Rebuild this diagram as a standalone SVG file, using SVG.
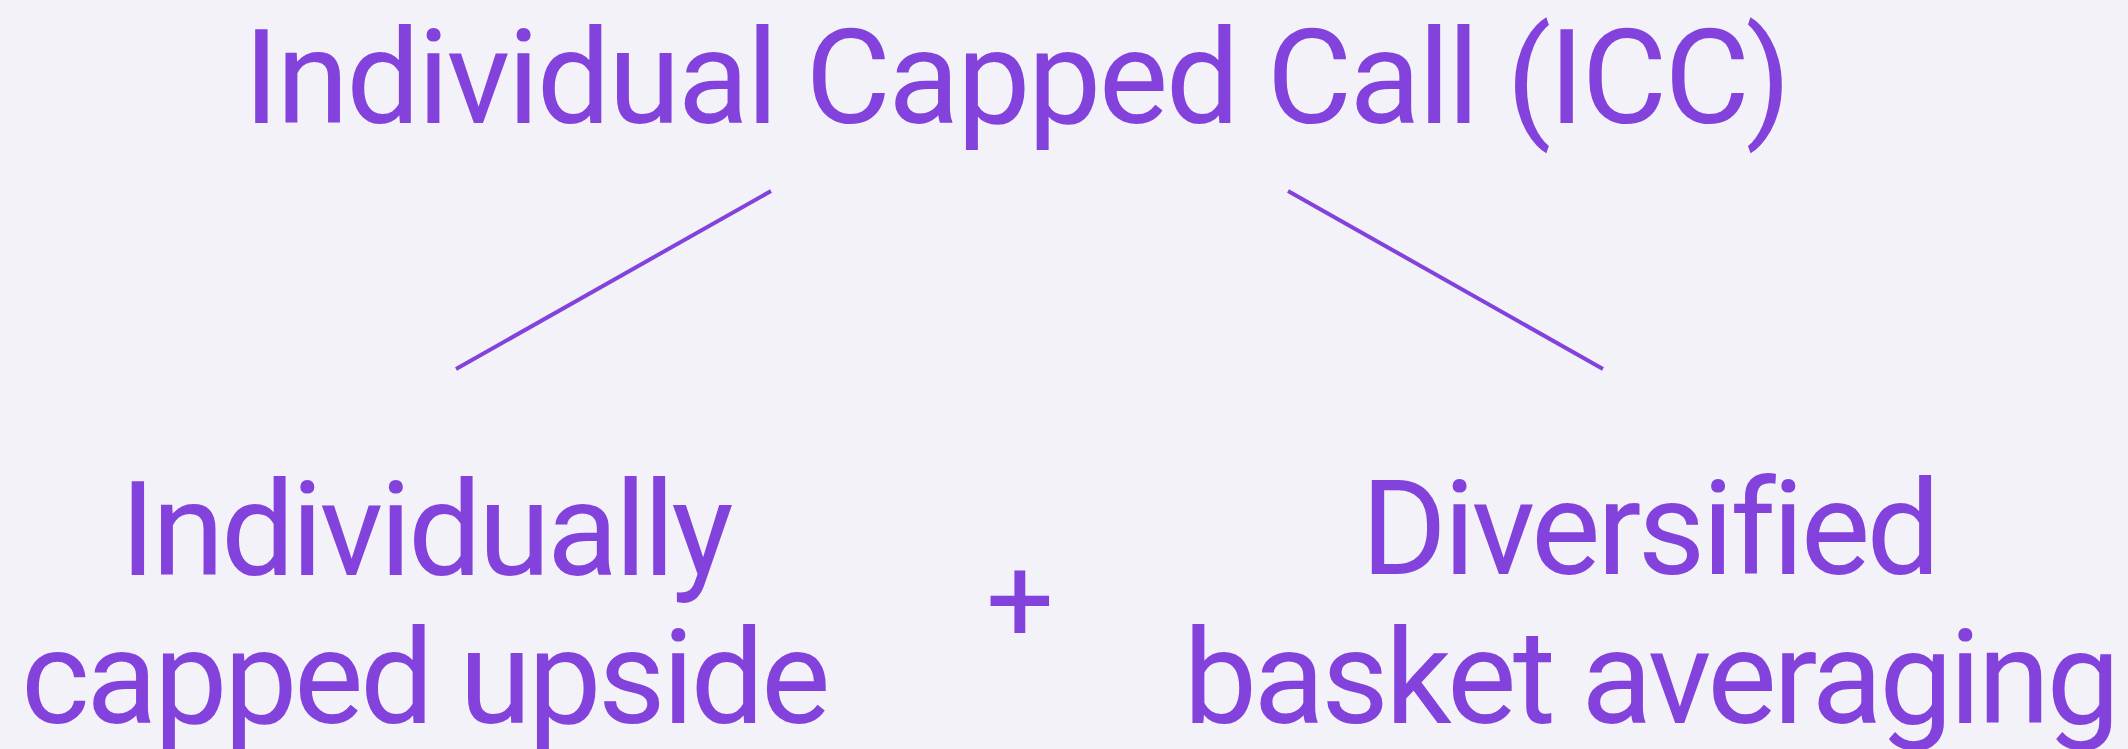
<svg xmlns="http://www.w3.org/2000/svg" width="2128" height="749" viewBox="0 0 2128 749">
<style>
.t{font-family:Roboto,"Liberation Sans",sans-serif;font-size:131px;letter-spacing:-3.5px;fill:#8442DC;text-anchor:middle}
.h{font-family:Roboto,"Liberation Sans",sans-serif;font-size:131px;letter-spacing:-2.6px;fill:#8442DC;text-anchor:middle}
.p{font-family:Roboto,"Liberation Sans",sans-serif;font-size:120px;fill:#8442DC;text-anchor:middle}
.c{stroke:#8442DC;stroke-width:4;fill:none}
</style>
<rect width="2128" height="749" fill="#F3F2F8"/>
<g id="root"><text class="h" x="1016" y="123">Individual Capped Call (ICC)</text></g>
<g id="connectors">
<line class="c" x1="771" y1="191" x2="456" y2="369"/>
<line class="c" x1="1288" y1="191" x2="1603" y2="369"/>
</g>
<g id="left"><text class="t" x="425" y="575">Individually</text><text class="t" x="424" y="723">capped upside</text></g>
<g id="plus"><text class="p" x="1020" y="642">+</text></g>
<g id="right"><text class="t" x="1649" y="574">Diversified</text><text class="t" x="1650" y="723">basket averaging</text></g>
</svg>
